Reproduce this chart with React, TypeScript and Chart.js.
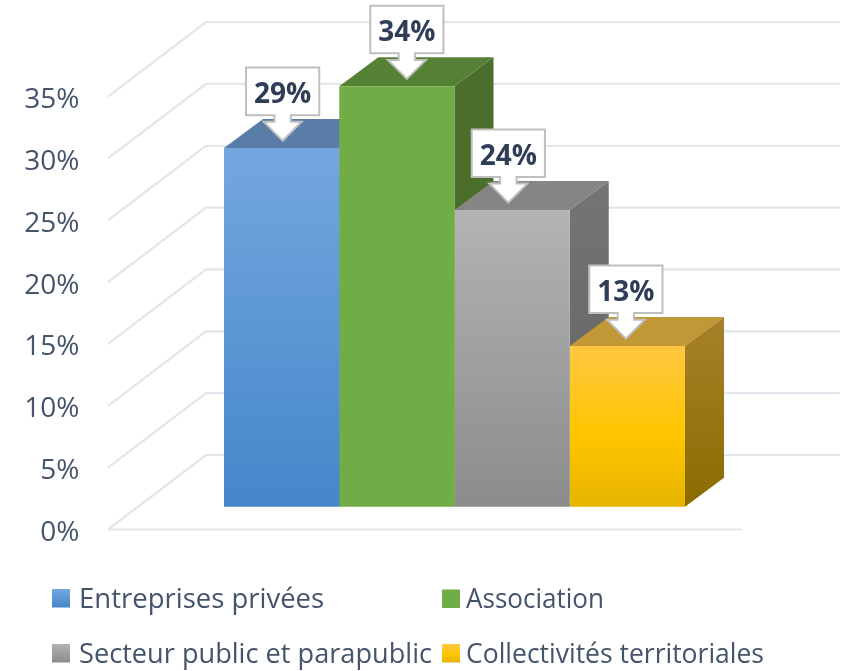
import React, { useEffect, useRef } from "react";
import { Chart, registerables } from "chart.js";

Chart.register(...registerables);

const categories = ["Répartition"];
const seriesNames = [
  "Entreprises privées",
  "Association",
  "Secteur public et parapublic",
  "Collectivités territoriales",
];
const entreprises = [29];
const association = [34];
const secteurPublic = [24];
const collectivites = [13];
const axisTicks = [0, 5, 10, 15, 20, 25, 30, 35];

const FONT = '"Open Sans"';
const TEXT = "#44546a";
const GRID = "#e2e5ec";
const BAR_DEPTH_X = 39;
const BAR_DEPTH_Y = 29;
const WALL_DX = 98;
const WALL_DY = 74.5;
const FLOOR_OFFSET_VALUE = 1.84; // bars stand on the floor, in front of the wall

const faces = [
  { front: [[0, "#74a7de"], [1, "#4487ca"]], top: "#5a7da8", side: ["#4f7299", "#3d6797"], callout: 1 },
  { front: [[0, "#70ad47"], [1, "#70ad47"]], top: "#558135", side: ["#4b6e2b", "#4b6e2b"], callout: 10 },
  { front: [[0, "#b3b3b3"], [1, "#8c8c8c"]], top: "#858585", side: ["#757575", "#5f5f5f"], callout: -3.8 },
  { front: [[0, "#ffc742"], [0.55, "#ffc600"], [1, "#e6b400"]], top: "#c09836", side: ["#a88129", "#8a6b00"], callout: -1.5 },
];

const legendCells = [
  { sx: 52, tx: 79, y: 589, w: 247 },
  { sx: 442, tx: 466, y: 589.5, w: 138 },
  { sx: 52, tx: 79, y: 644, w: 353 },
  { sx: 442, tx: 466, y: 644, w: 298 },
];

function frontGradient(ctx: CanvasRenderingContext2D, top: number, bottom: number, stops: any[]) {
  const g = ctx.createLinearGradient(0, top, 0, bottom);
  stops.forEach(([o, c]) => g.addColorStop(o, c));
  return g;
}

const scene3d = {
  id: "scene3d",
  beforeDatasetsDraw(chart: any) {
    const { ctx, scales, chartArea } = chart;
    const y = scales.y;
    ctx.save();
    ctx.strokeStyle = GRID;
    ctx.lineWidth = 2.2;
    ctx.lineJoin = "miter";
    axisTicks.forEach((t) => {
      const py = y.getPixelForValue(t);
      ctx.beginPath();
      ctx.moveTo(chartArea.left, py);
      ctx.lineTo(chartArea.left + WALL_DX, py - WALL_DY);
      ctx.lineTo(840, py - WALL_DY);
      ctx.stroke();
    });
    const py0 = y.getPixelForValue(0);
    ctx.beginPath();
    ctx.moveTo(chartArea.left, py0);
    ctx.lineTo(742, py0);
    ctx.stroke();

    chart.data.datasets.forEach((_: any, i: number) => {
      const el = chart.getDatasetMeta(i).data[0];
      const left = el.x - el.width / 2;
      const right = el.x + el.width / 2;
      const f = faces[i];
      ctx.fillStyle = f.top;
      ctx.beginPath();
      ctx.moveTo(left, el.y);
      ctx.lineTo(right, el.y);
      ctx.lineTo(right + BAR_DEPTH_X, el.y - BAR_DEPTH_Y);
      ctx.lineTo(left + BAR_DEPTH_X, el.y - BAR_DEPTH_Y);
      ctx.closePath();
      ctx.fill();
      const g = ctx.createLinearGradient(0, el.y - BAR_DEPTH_Y, 0, el.base);
      g.addColorStop(0, f.side[0]);
      g.addColorStop(1, f.side[1]);
      ctx.fillStyle = g;
      ctx.beginPath();
      ctx.moveTo(right, el.y);
      ctx.lineTo(right + BAR_DEPTH_X, el.y - BAR_DEPTH_Y);
      ctx.lineTo(right + BAR_DEPTH_X, el.base - BAR_DEPTH_Y);
      ctx.lineTo(right, el.base);
      ctx.closePath();
      ctx.fill();
    });
    ctx.restore();
  },
  afterDatasetsDraw(chart: any) {
    const { ctx } = chart;
    ctx.save();
    chart.data.datasets.forEach((ds: any, i: number) => {
      const el = chart.getDatasetMeta(i).data[0];
      const cx = el.x + faces[i].callout;
      const tip = el.y - 7.3;
      const boxTop = tip - 73.2;
      const boxBottom = boxTop + 47.6;
      ctx.beginPath();
      ctx.moveTo(cx - 36.6, boxTop);
      ctx.lineTo(cx + 36.6, boxTop);
      ctx.lineTo(cx + 36.6, boxBottom);
      ctx.lineTo(cx + 8.2, boxBottom);
      ctx.lineTo(cx + 8.2, tip - 19);
      ctx.lineTo(cx + 19, tip - 19);
      ctx.lineTo(cx, tip);
      ctx.lineTo(cx - 19, tip - 19);
      ctx.lineTo(cx - 8.2, tip - 19);
      ctx.lineTo(cx - 8.2, boxBottom);
      ctx.lineTo(cx - 36.6, boxBottom);
      ctx.closePath();
      ctx.fillStyle = "#ffffff";
      ctx.fill();
      ctx.strokeStyle = "#bfbfbf";
      ctx.lineWidth = 2;
      ctx.stroke();
      ctx.fillStyle = "#2f3d57";
      ctx.font = `bold 28px ${FONT}`;
      ctx.textAlign = "center";
      ctx.textBaseline = "middle";
      ctx.fillText(`${ds.data[0]}%`, cx, boxTop + 27.5);
    });

    // legend in two aligned columns
    chart.data.datasets.forEach((ds: any, i: number) => {
      const c = legendCells[i];
      ctx.fillStyle = frontGradient(ctx, c.y, c.y + 18.5, faces[i].front);
      ctx.fillRect(c.sx, c.y, 18, 18.5);
      ctx.fillStyle = TEXT;
      ctx.font = `27.5px ${FONT}`;
      ctx.textAlign = "left";
      ctx.textBaseline = "alphabetic";
      ctx.fillText(ds.label, c.tx, c.y + 18.5, c.w);
    });
    ctx.restore();
  },
};

export default function App() {
  const ref = useRef<HTMLCanvasElement | null>(null);
  useEffect(() => {
    const series = [entreprises, association, secteurPublic, collectivites];
    const chart = new Chart(ref.current as HTMLCanvasElement, {
      type: "bar",
      data: {
        labels: categories,
        datasets: series.map((data, i) => ({
          label: seriesNames[i],
          data,
          yAxisID: "yBars",
          clip: false as any,
          borderWidth: 0,
          barPercentage: 1,
          categoryPercentage: 0.6652,
          backgroundColor: (c: any) => {
            const s = c.chart.scales.yBars;
            if (!s || !c.chart.chartArea) return faces[i].top;
            return frontGradient(
              c.chart.ctx,
              s.getPixelForValue(data[0]),
              s.getPixelForValue(0),
              faces[i].front
            );
          },
        })),
      },
      options: {
        animation: false,
        responsive: false,
        layout: { padding: { top: 96.6, bottom: 141.5, right: 52, left: 0 } },
        plugins: { legend: { display: false }, tooltip: { enabled: false } },
        scales: {
          x: { display: false },
          y: {
            min: 0,
            max: 35,
            position: "left",
            afterFit: (s: any) => {
              s.width = 108;
            },
            afterBuildTicks: (s: any) => {
              s.ticks = axisTicks.map((value) => ({ value }));
            },
            grid: { display: false, drawTicks: false },
            border: { display: false },
            ticks: {
              padding: 28.5,
              labelOffset: 3.5,
              color: TEXT,
              font: { family: FONT, size: 28 },
              callback: (v: any) => `${v}%`,
            },
          },
          yBars: {
            display: false,
            min: -FLOOR_OFFSET_VALUE,
            max: 35 - FLOOR_OFFSET_VALUE,
          },
        },
      } as any,
      plugins: [scene3d],
    });
    return () => chart.destroy();
  }, []);
  return (
    <div style={{ position: "fixed", left: 0, top: 0, width: 853, height: 671, background: "#fff" }}>
      <canvas ref={ref} width={853} height={671} style={{ display: "block" }} />
    </div>
  );
}
